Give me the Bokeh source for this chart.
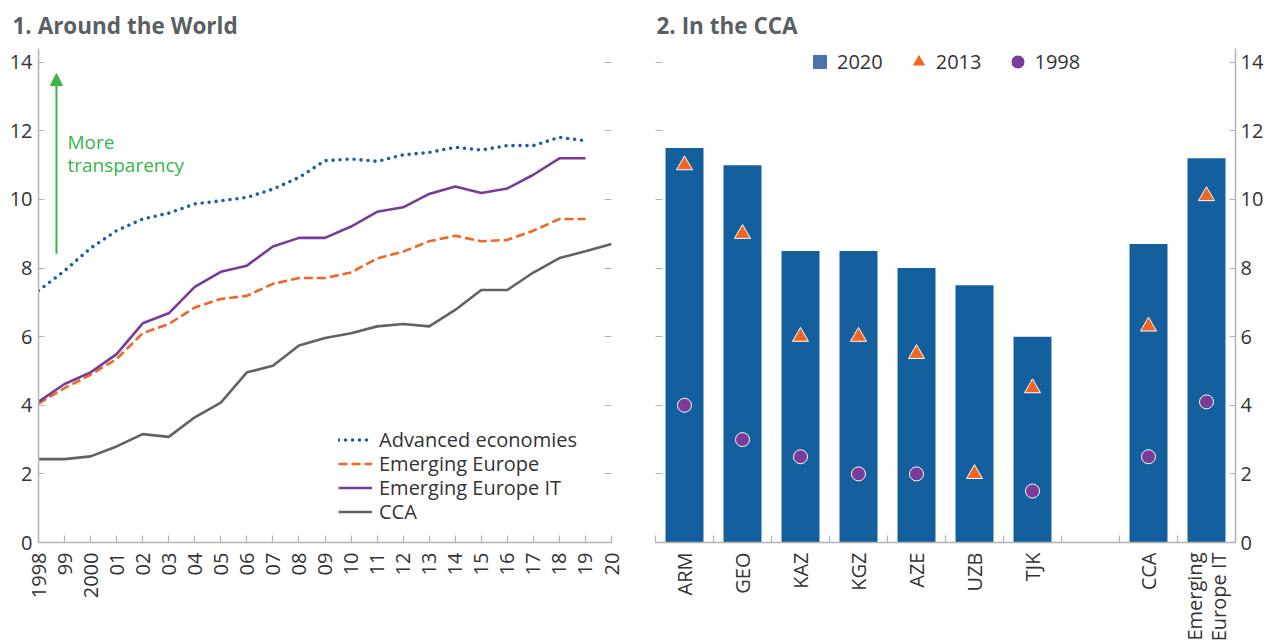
import math
from bokeh.plotting import figure
from bokeh.layouts import row
from bokeh.models import (Range1d, LinearAxis, FixedTicker, Legend, LegendItem,
                          Label, Arrow, NormalHead)
from bokeh.embed import file_html
from bokeh.resources import INLINE

nan = float("nan")

# ---------------- Panel 1 data ----------------
years = list(range(1998, 2021))
year_labels = ["1998", "99", "2000", "01", "02", "03", "04", "05", "06", "07", "08",
               "09", "10", "11", "12", "13", "14", "15", "16", "17", "18", "19", "20"]
advanced = [7.34, 7.92, 8.58, 9.09, 9.43, 9.60, 9.87, 9.96, 10.06, 10.30, 10.64,
            11.13, 11.18, 11.11, 11.30, 11.37, 11.52, 11.44, 11.57, 11.57, 11.81, 11.71, nan]
emerging_europe = [4.05, 4.50, 4.89, 5.35, 6.10, 6.37, 6.85, 7.10, 7.19, 7.54, 7.71,
                   7.71, 7.87, 8.28, 8.48, 8.78, 8.94, 8.78, 8.82, 9.09, 9.43, 9.43, nan]
emerging_europe_it = [4.10, 4.62, 4.96, 5.49, 6.39, 6.68, 7.45, 7.89, 8.07, 8.63, 8.88,
                      8.88, 9.21, 9.64, 9.77, 10.16, 10.38, 10.19, 10.32, 10.72, 11.20, 11.20, nan]
cca = [2.43, 2.43, 2.51, 2.80, 3.16, 3.08, 3.65, 4.08, 4.96, 5.15, 5.74,
       5.96, 6.10, 6.30, 6.37, 6.30, 6.78, 7.36, 7.36, 7.87, 8.29, 8.49, 8.70]
series_names = ["Advanced economies", "Emerging Europe", "Emerging Europe IT", "CCA"]

# ---------------- Panel 2 data ----------------
countries = ["ARM", "GEO", "KAZ", "KGZ", "AZE", "UZB", "TJK", "", "CCA", "Emerging\nEurope IT"]
v2020 = [11.5, 11.0, 8.5, 8.5, 8.0, 7.5, 6.0, nan, 8.7, 11.2]
v2013 = [11.0, 9.0, 6.0, 6.0, 5.5, 2.0, 4.5, nan, 6.3, 10.1]
v1998 = [4.0, 3.0, 2.5, 2.0, 2.0, nan, 1.5, nan, 2.5, 4.1]
y_ticks = [0, 2, 4, 6, 8, 10, 12, 14]

# ---------------- styles ----------------
FONT = "Open Sans"
TICK_COLOR = "#b3b3b3"
TEXT_COLOR = "#333333"
TITLE_COLOR = "#595f64"
C_ADV = "#1b5fa2"
C_EE = "#f26522"
C_EEIT = "#773c98"
C_CCA = "#5f6366"
C_BAR = "#14609e"
C_BAR_LEG = "#4a72ae"
C_TRI = "#f26522"
C_CIR = "#7b3b9b"
GREEN = "#39b54a"


def style_axis(ax, labels=True, line=True, tick_in=7):
    ax.axis_line_color = TICK_COLOR if line else None
    ax.axis_line_width = 1.5
    ax.major_tick_line_color = TICK_COLOR
    ax.major_tick_line_width = 1.2
    ax.major_tick_in = tick_in
    ax.major_tick_out = 0
    ax.minor_tick_line_color = None
    ax.major_label_text_font = FONT
    if labels:
        ax.major_label_text_color = TEXT_COLOR
        ax.major_label_text_font_size = "20px"
    else:
        ax.major_label_text_color = None
        ax.major_label_text_font_size = "1px"
        ax.major_label_standoff = 0


def style_title(p, text, offset):
    p.title.text = text
    p.title.text_font = FONT
    p.title.text_font_size = "22.5px"
    p.title.text_font_style = "bold"
    p.title.text_color = TITLE_COLOR
    p.title.align = "left"
    p.title.vertical_align = "top"
    p.title.offset = offset
    p.title.standoff = 12


# ================= Panel 1 =================
p1 = figure(frame_width=573, frame_height=494,
            min_border_left=38, min_border_right=29, min_border_top=48, min_border_bottom=98,
            x_range=Range1d(1998, 2020), y_range=Range1d(0, 14.4),
            output_backend="svg", toolbar_location=None)
p1.outline_line_color = None
p1.grid.visible = False
style_title(p1, "1. Around the World", -26)

r_adv = p1.line(years, advanced, line_color=C_ADV, line_width=3.6, line_dash="0 7",
                line_cap="round")
r_ee = p1.line(years, emerging_europe, line_color=C_EE, line_width=2.6, line_dash="9 4")
r_eeit = p1.line(years, emerging_europe_it, line_color=C_EEIT, line_width=2.6)
r_cca = p1.line(years, cca, line_color=C_CCA, line_width=2.6)

style_axis(p1.xaxis[0])
p1.xaxis.ticker = FixedTicker(ticks=years)
p1.xaxis.major_label_overrides = {y: l for y, l in zip(years, year_labels)}
p1.xaxis.major_label_orientation = math.pi / 2
p1.xaxis.major_label_standoff = 10

style_axis(p1.yaxis[0], tick_in=6)
p1.yaxis.ticker = FixedTicker(ticks=y_ticks)
p1.yaxis.major_label_standoff = 6

ax_r1 = LinearAxis(ticker=FixedTicker(ticks=y_ticks))
style_axis(ax_r1, labels=False, line=False, tick_in=7)
p1.add_layout(ax_r1, "right")

# one single-item legend per row, so that rows sit 24px apart
row_offsets = [89, 65, 41, 17]   # px above the frame bottom
for name, rend, off in zip(series_names, [r_adv, r_ee, r_eeit, r_cca], row_offsets):
    lg = Legend(items=[LegendItem(label=name, renderers=[rend])],
                location=(300, off), orientation="vertical",
                glyph_width=34, glyph_height=21, label_height=21, spacing=0,
                padding=0, margin=0, label_standoff=7,
                label_text_font=FONT, label_text_font_size="20px",
                label_text_color=TEXT_COLOR,
                border_line_color=None, background_fill_alpha=0)
    p1.add_layout(lg)

p1.add_layout(Arrow(end=NormalHead(size=12, fill_color=GREEN, line_color=GREEN),
                    x_start=1998.69, y_start=8.42, x_end=1998.69, y_end=13.67,
                    line_color=GREEN, line_width=2))
p1.add_layout(Label(x=1999.11, y=11.66, text="More", text_color=GREEN,
                    text_font=FONT, text_font_size="19px", text_baseline="middle"))
p1.add_layout(Label(x=1999.11, y=10.99, text="transparency", text_color=GREEN,
                    text_font=FONT, text_font_size="19px", text_baseline="middle"))

# ================= Panel 2 =================
n = len(countries)
centers = [i + 0.5 for i in range(n)]
bounds = list(range(n + 1))

p2 = figure(frame_width=580, frame_height=494,
            min_border_left=15, min_border_right=30, min_border_top=48, min_border_bottom=98,
            x_range=Range1d(0, n), y_range=Range1d(0, 14.4), y_axis_location="right",
            output_backend="svg", toolbar_location=None)
p2.outline_line_color = None
p2.grid.visible = False
style_title(p2, "2. In the CCA", 1)

p2.vbar(x=centers, top=v2020, width=0.655, fill_color=C_BAR, line_color=None)
r_tri = p2.scatter(centers, v2013, marker="triangle", size=16, fill_color=C_TRI,
                   line_color="white", line_width=1)
r_cir = p2.scatter(centers, v1998, marker="circle", size=14, fill_color=C_CIR,
                   line_color="white", line_width=1)
r_sq = p2.scatter(x=[nan], y=[nan], marker="square", size=14, fill_color=C_BAR_LEG,
                  line_color=None)

xa = p2.xaxis[0]
style_axis(xa)
xa.ticker = FixedTicker(ticks=centers, minor_ticks=bounds)
xa.major_label_overrides = {c: l for c, l in zip(centers, countries)}
xa.major_label_orientation = math.pi / 2
xa.major_label_standoff = 10
xa.major_label_text_line_height = 0.9
xa.major_tick_in = 0
xa.major_tick_line_color = None
xa.minor_tick_line_color = TICK_COLOR
xa.minor_tick_line_width = 1.2
xa.minor_tick_in = 7
xa.minor_tick_out = 0

style_axis(p2.yaxis[0], tick_in=6)
p2.yaxis.ticker = FixedTicker(ticks=y_ticks)
p2.yaxis.major_label_standoff = 5

ax_l2 = LinearAxis(ticker=FixedTicker(ticks=y_ticks))
style_axis(ax_l2, labels=False, line=False, tick_in=7)
p2.add_layout(ax_l2, "left")

leg2 = Legend(items=[LegendItem(label="2020", renderers=[r_sq]),
                     LegendItem(label="2013", renderers=[r_tri]),
                     LegendItem(label="1998", renderers=[r_cir])],
              location=(147, 463), orientation="horizontal",
              glyph_width=35, glyph_height=35, spacing=18,
              padding=0, margin=0, label_standoff=0,
              label_text_font=FONT, label_text_font_size="20px",
              label_text_color=TEXT_COLOR,
              border_line_color=None, background_fill_alpha=0)
p2.add_layout(leg2)

layout = row(p1, p2)
open("out.html", "w").write(file_html(layout, INLINE))
